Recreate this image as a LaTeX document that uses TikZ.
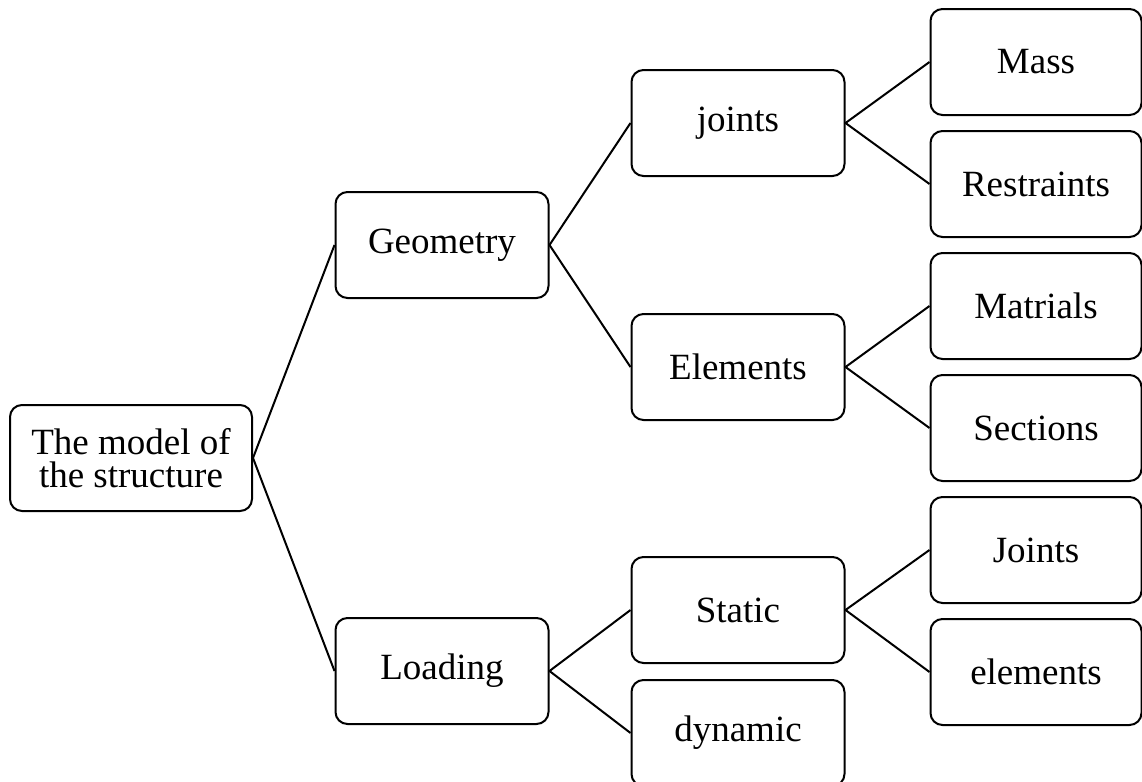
\documentclass[tikz,border=0pt]{standalone}
\usepackage{fontspec}
\setmainfont{Liberation Serif}
\usepackage{tikz}
\usetikzlibrary{positioning}

\begin{document}
\begin{tikzpicture}[
  x=0.5pt, y=-0.5pt,
  box/.style={draw, line width=1pt, rounded corners=6pt, inner sep=0pt,
              minimum width=106.5pt, minimum height=53pt, align=center,
              font=\fontsize{18.5}{16.5}\selectfont},
  rootbox/.style={box, minimum width=121pt},
  leafbox/.style={box, minimum width=105.5pt},
  link/.style={line width=1pt}
]
\useasboundingbox (0,0) rectangle (1142,782);
% Levels
\node[rootbox] (model) at (131,458) {The model of\\the structure};
\node[box] (geo) at (442,245) {Geometry};
\node[box] (load) at (442,671) {Loading};
\node[box] (joints) at (738,123) {joints};
\node[box] (elem) at (738,367) {Elements};
\node[box] (static) at (738,610) {Static};
\node[box] (dyn) at (738,733) {dynamic};
% Leaves
\node[leafbox] (mass) at (1036,62) {Mass};
\node[leafbox] (restr) at (1036,184) {Restraints};
\node[leafbox] (mat) at (1036,306) {Matrials};
\node[leafbox] (sect) at (1036,428) {Sections};
\node[leafbox] (sjoints) at (1036,550) {Joints};
\node[leafbox] (selem) at (1036,672) {elements};
% Links
\draw[link] (geo.west) -- (model.east) -- (load.west);
\draw[link] (joints.west) -- (geo.east) -- (elem.west);
\draw[link] (static.west) -- (load.east) -- (dyn.west);
\draw[link] (mass.west) -- (joints.east) -- (restr.west);
\draw[link] (mat.west) -- (elem.east) -- (sect.west);
\draw[link] (sjoints.west) -- (static.east) -- (selem.west);
\end{tikzpicture}
\end{document}
